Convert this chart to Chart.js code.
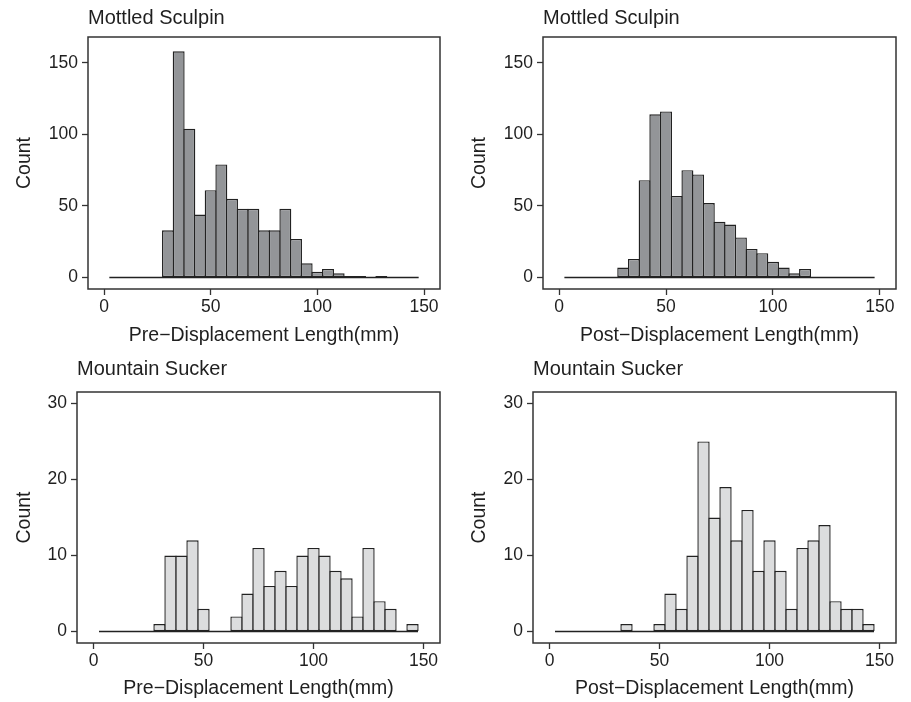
<!DOCTYPE html>
<html>
<head>
<meta charset="utf-8">
<script src="https://cdn.jsdelivr.net/npm/chart.js@4.4.1/dist/chart.umd.min.js"></script>
<style>
  body { margin: 0; background: #fff; }
  #wrap { position: relative; width: 911px; height: 702px; }
  .panel { position: absolute; }
</style>
</head>
<body>
<div id="wrap">
  <div class="panel" style="left:0;top:0;width:455px;height:351px"><canvas id="c1"></canvas></div>
  <div class="panel" style="left:455px;top:0;width:456px;height:351px"><canvas id="c2"></canvas></div>
  <div class="panel" style="left:0;top:351px;width:455px;height:351px"><canvas id="c3"></canvas></div>
  <div class="panel" style="left:455px;top:351px;width:456px;height:351px"><canvas id="c4"></canvas></div>
</div>
<script>
// bin centres (mm), bin width 5
var binWidth = 5;
var bins = [5, 10, 15, 20, 25, 30, 35, 40, 45, 50, 55, 60, 65, 70, 75,
            80, 85, 90, 95, 100, 105, 110, 115, 120, 125, 130, 135, 140, 145];

// Mottled Sculpin counts
var sculpinPre  = [0, 0, 0, 0, 0, 33, 158, 104, 44, 61, 79, 55, 48, 48, 33,
                   33, 48, 27, 10, 4, 6, 3, 1, 1, 0, 1, 0, 0, 0];
var sculpinPost = [0, 0, 0, 0, 0, 7, 13, 68, 114, 116, 57, 75, 72, 52, 39,
                   37, 28, 20, 17, 11, 7, 3, 6, 0, 0, 0, 0, 0, 0];

// Mountain Sucker counts
var suckerPre  = [0, 0, 0, 0, 0, 1, 10, 10, 12, 3, 0, 0, 2, 5, 11,
                  6, 8, 6, 10, 11, 10, 8, 7, 2, 11, 4, 3, 0, 1];
var suckerPost = [0, 0, 0, 0, 0, 0, 1, 0, 0, 1, 5, 3, 10, 25, 15,
                  19, 12, 16, 8, 12, 8, 3, 11, 12, 14, 4, 3, 3, 1];

var xTicks = [0, 50, 100, 150];
var sculpinYTicks = [0, 50, 100, 150];
var suckerYTicks = [0, 10, 20, 30];

var darkGrey = '#939598';
var lightGrey = '#dcddde';
var ink = '#1f1f1f';
var fontFam = '"Liberation Sans", Arial, Helvetica, sans-serif';

// draws the panel border round the plotting area
var boxPlugin = {
  id: 'box',
  afterDatasetsDraw: function(chart) {
    var a = chart.chartArea;
    var ctx = chart.ctx;
    ctx.save();
    ctx.strokeStyle = '#333';
    ctx.lineWidth = 1.5;
    ctx.strokeRect(a.left, a.top, a.right - a.left, a.bottom - a.top);
    ctx.restore();
  }
};

function makeHist(id, title, xLabel, counts, fill, yMax, yTicks, yWidth, xHeight, titlePadBottom, xTitlePad) {
  var ctx = document.getElementById(id).getContext('2d');
  var pts = [];
  for (var i = 0; i < bins.length; i++) {
    pts.push({x: bins[i], y: counts[i]});
  }
  // zero line under all bins (ggplot outlines empty bins too)
  var base = [{x: bins[0] - binWidth / 2, y: 0}, {x: bins[bins.length - 1] + binWidth / 2, y: 0}];
  var yPad = yMax * 0.05;

  return new Chart(ctx, {
    type: 'bar',
    data: {
      datasets: [
        {
          type: 'line',
          data: base,
          borderColor: '#222',
          borderWidth: 1.5,
          pointRadius: 0,
          order: 2
        },
        {
          data: pts,
          backgroundColor: fill,
          borderColor: '#222',
          borderWidth: 1.4,
          borderSkipped: false,
          barPercentage: 1.12,
          categoryPercentage: 1,
          order: 1
        }
      ]
    },
    options: {
      responsive: true,
      maintainAspectRatio: false,
      animation: false,
      layout: { padding: { left: 0, right: 15, top: 0, bottom: 0 } },
      plugins: {
        legend: { display: false },
        tooltip: { enabled: false },
        title: {
          display: true,
          text: title,
          align: 'start',
          fullSize: false,
          color: ink,
          font: { family: fontFam, size: 20, weight: 'normal' },
          padding: { top: 6.8, bottom: titlePadBottom }
        }
      },
      scales: {
        x: {
          type: 'linear',
          min: -7.5,
          max: 157.5,
          offset: false,
          afterFit: function(s) { s.height = xHeight; },
          afterBuildTicks: function(s) { s.ticks = xTicks.map(function(v) { return {value: v}; }); },
          grid: { display: true, offset: false, drawOnChartArea: false, drawTicks: true, tickLength: 6, tickColor: '#333', tickWidth: 1.3 },
          border: { display: false },
          ticks: { color: ink, padding: 2, font: { family: fontFam, size: 17.5 } },
          title: { display: true, text: xLabel, color: ink, font: { family: fontFam, size: 19.5 }, padding: { top: 0, bottom: xTitlePad } }
        },
        y: {
          min: -yPad,
          max: yMax + yPad,
          afterFit: function(s) { s.width = yWidth; },
          afterBuildTicks: function(s) { s.ticks = yTicks.map(function(v) { return {value: v}; }); },
          grid: { display: true, drawOnChartArea: false, drawTicks: true, tickLength: 6, tickColor: '#333', tickWidth: 1.3 },
          border: { display: false },
          ticks: { color: ink, padding: 4, font: { family: fontFam, size: 17.5 } },
          title: { display: true, text: 'Count', color: ink, font: { family: fontFam, size: 19.5 }, padding: { top: 12.5, bottom: 0 } }
        }
      }
    },
    plugins: [boxPlugin]
  });
}

makeHist('c1', 'Mottled Sculpin', 'Pre\u2212Displacement Length(mm)', sculpinPre, darkGrey, 160, sculpinYTicks, 88, 62, 6.2, 3.3);
makeHist('c2', 'Mottled Sculpin', 'Post\u2212Displacement Length(mm)', sculpinPost, darkGrey, 160, sculpinYTicks, 88, 62, 6.2, 3.3);
makeHist('c3', 'Mountain Sucker', 'Pre\u2212Displacement Length(mm)', suckerPre, lightGrey, 30, suckerYTicks, 77, 59, 10.2, 1.3);
makeHist('c4', 'Mountain Sucker', 'Post\u2212Displacement Length(mm)', suckerPost, lightGrey, 30, suckerYTicks, 78, 59, 10.2, 1.3);
</script>
</body>
</html>
